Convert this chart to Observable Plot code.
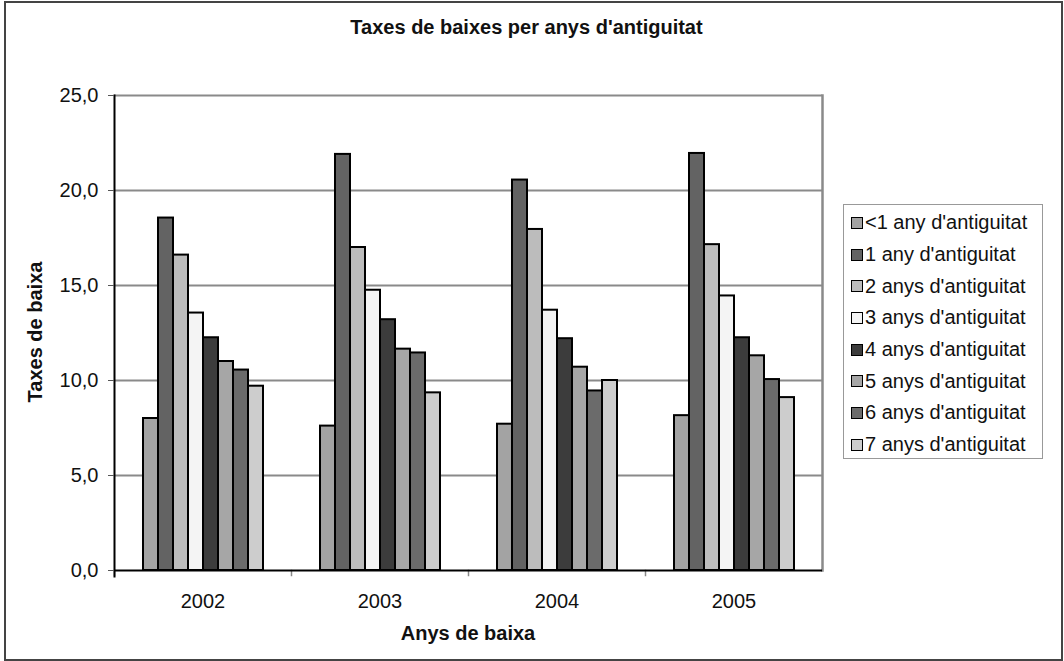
<!DOCTYPE html>
<html>
<head>
<meta charset="utf-8">
<script src="https://cdn.jsdelivr.net/npm/d3@7"></script>
<script src="https://cdn.jsdelivr.net/npm/@observablehq/plot@0.6"></script>
<style>
  html, body { margin: 0; padding: 0; background: #fff; }
  #wrap { position: relative; width: 1064px; height: 661px; overflow: hidden; font-family: "Liberation Sans", Arial, sans-serif; color: #111; }
  #border { position: absolute; left: 4px; top: 1px; width: 1055px; height: 656px; border: 2px solid #444; box-sizing: content-box; }
  #chart { position: absolute; left: 0; top: 0; }
  .title { position: absolute; left: 0; width: 1053px; top: 15px; line-height: 24px; text-align: center; font-weight: bold; font-size: 20px; }
  .xlabel { position: absolute; left: 268px; width: 400px; top: 621px; line-height: 24px; text-align: center; font-weight: bold; font-size: 20px; }
  .ylabel { position: absolute; left: -165px; width: 400px; top: 320px; line-height: 24px; text-align: center; font-weight: bold; font-size: 20px; transform: rotate(-90deg); }
  #legend { position: absolute; left: 843px; top: 204px; width: 200px; height: 255px; border: 1px solid #999; box-sizing: border-box; padding-top: 2px; }
  .item { height: 31.7px; display: flex; align-items: center; font-size: 20px; white-space: nowrap; }
  .sw { width: 10px; height: 10px; border: 1.5px solid #000; margin-left: 7px; margin-right: 2px; flex: none; }
</style>
</head>
<body>
<div id="wrap">
  <div id="chart"></div>
  <div id="border"></div>
  <div class="title">Taxes de baixes per anys d'antiguitat</div>
  <div class="xlabel">Anys de baixa</div>
  <div class="ylabel">Taxes de baixa</div>
  <div id="legend"></div>
</div>
<script>
const years = ["2002", "2003", "2004", "2005"];
const series = [
  "<1 any d'antiguitat",
  "1 any d'antiguitat",
  "2 anys d'antiguitat",
  "3 anys d'antiguitat",
  "4 anys d'antiguitat",
  "5 anys d'antiguitat",
  "6 anys d'antiguitat",
  "7 anys d'antiguitat"
];
const v2002 = [8.0, 18.55, 16.6, 13.55, 12.25, 11.0, 10.55, 9.7];
const v2003 = [7.6, 21.9, 17.0, 14.75, 13.2, 11.65, 11.45, 9.35];
const v2004 = [7.7, 20.55, 17.95, 13.7, 12.2, 10.7, 9.45, 10.0];
const v2005 = [8.15, 21.95, 17.15, 14.45, 12.25, 11.3, 10.05, 9.1];
const yTicks = [0, 5, 10, 15, 20, 25];
const colors = ["#a3a3a3", "#636363", "#bcbcbc", "#f4f4f4", "#3c3c3c", "#a6a6a6", "#6b6b6b", "#cdcdcd"];

const valuesByYear = [v2002, v2003, v2004, v2005];
const data = years.flatMap((yr, i) => series.map((s, j) => ({year: yr, series: s, value: valuesByYear[i][j]})));

const W = 1064, H = 661, mL = 113, mR = 241, mT = 95, mB = 91;
const plotH = H - mT - mB;

const chart = Plot.plot({
  width: W,
  height: H,
  marginLeft: mL,
  marginRight: mR,
  marginTop: mT,
  marginBottom: mB,
  style: {fontFamily: "'Liberation Sans', Arial, sans-serif", fontSize: "20px", background: "transparent", color: "#111"},
  fx: {domain: years, padding: 0, label: null},
  x: {domain: series, paddingInner: 0, paddingOuter: 1.82, axis: null},
  y: {domain: [0, 25], label: null},
  color: {domain: series, range: colors},
  marks: [
    Plot.gridY(yTicks.filter(d => d > 0), {stroke: "#8a8a8a", strokeOpacity: 1, strokeWidth: 2}),
    Plot.frame({anchor: "right", facetAnchor: "right", stroke: "#8a8a8a", strokeWidth: 2.5, strokeOpacity: 1}),
    Plot.frame({anchor: "left", insetTop: plotH, insetBottom: -5, stroke: "#888", strokeWidth: 1.5}),
    Plot.barY(data, {fx: "year", x: "series", y: "value", fill: "series", stroke: "#000", strokeWidth: 2}),
    Plot.ruleY([0], {stroke: "#000", strokeWidth: 2}),
    Plot.frame({anchor: "left", facetAnchor: "left", insetBottom: -6, stroke: "#000", strokeWidth: 2}),
    Plot.axisY({ticks: yTicks, tickFormat: d => d.toFixed(1).replace(".", ","), tickSize: 6, tickPadding: 10, label: null, stroke: "#555"}),
    Plot.axisFx({anchor: "bottom", tickSize: 0, tickPadding: 23, label: null})
  ]
});
document.getElementById("chart").appendChild(chart);

const legend = document.getElementById("legend");
series.forEach((s, i) => {
  const row = document.createElement("div");
  row.className = "item";
  const sw = document.createElement("span");
  sw.className = "sw";
  sw.style.background = colors[i];
  const t = document.createElement("span");
  t.textContent = s;
  row.appendChild(sw);
  row.appendChild(t);
  legend.appendChild(row);
});
</script>
</body>
</html>
